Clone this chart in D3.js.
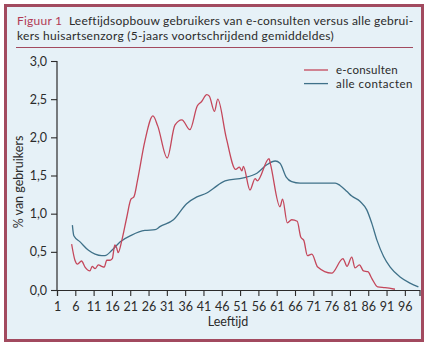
<!DOCTYPE html>
<html>
<head>
<meta charset="utf-8">
<script src="https://cdn.jsdelivr.net/npm/d3@7"></script>
<style>
  html, body { margin: 0; padding: 0; background: #fff; }
  svg text { font-family: Lato, "Open Sans", sans-serif; }
</style>
</head>
<body>
<svg id="chart" width="429" height="346"></svg>
<script>
// Age in years and share of users (%) per series, 5-year moving averages
const eConsultAge = [5, 5.9, 6.6, 7.7, 8.65, 10, 10.6, 11.4, 12.3, 13.2, 13.9, 14.6, 15.5, 16.1, 16.8, 17.3, 17.7, 18.7, 20, 21.2, 22, 23, 25, 27.2, 28.5, 31.1, 33.2, 35.1, 37.3, 39.3, 40.5, 41.9, 42.6, 44, 44.9, 47.2, 49.8, 50.8, 51.5, 51.9, 53.7, 55.1, 55.7, 58.9, 59.3, 61.9, 62.6, 63.9, 65.1, 66.6, 67.6, 68.4, 69.4, 70.6, 72.2, 76, 79.1, 79.4, 80.2, 81.5, 82.4, 83.6, 84.7, 85.9, 87, 88.6, 90.6, 93.3];
const eConsultPct = [0.60, 0.39, 0.34, 0.38, 0.30, 0.25, 0.31, 0.28, 0.33, 0.31, 0.30, 0.39, 0.39, 0.41, 0.59, 0.55, 0.49, 0.65, 0.94, 1.19, 1.22, 1.44, 1.95, 2.28, 2.15, 1.73, 2.16, 2.23, 2.10, 2.41, 2.47, 2.56, 2.54, 2.34, 2.50, 2.00, 1.58, 1.61, 1.56, 1.62, 1.31, 1.46, 1.43, 1.72, 1.65, 1.09, 1.19, 0.88, 0.92, 0.90, 0.69, 0.65, 0.45, 0.47, 0.30, 0.22, 0.41, 0.39, 0.31, 0.43, 0.29, 0.33, 0.25, 0.24, 0.15, 0.04, 0.03, 0.01];

const allContactAge = [5.2, 5.6, 7.3, 9.6, 11.4, 13.2, 14.1, 16, 18.2, 21.4, 25, 27.8, 29.1, 32.8, 36.4, 39.2, 41.9, 43.7, 46.9, 51.9, 55.6, 58.3, 60.6, 61.9, 63.6, 65.1, 67.4, 72.9, 77, 78.3, 80.2, 81.5, 83.8, 85.6, 87, 88.4, 90.2, 92, 94.7, 97.4, 99.7];
const allContactPct = [0.85, 0.71, 0.63, 0.52, 0.47, 0.45, 0.45, 0.52, 0.63, 0.72, 0.78, 0.79, 0.83, 0.92, 1.13, 1.22, 1.27, 1.33, 1.43, 1.47, 1.53, 1.64, 1.69, 1.66, 1.48, 1.42, 1.40, 1.40, 1.40, 1.37, 1.29, 1.23, 1.16, 1.05, 0.87, 0.65, 0.44, 0.30, 0.17, 0.09, 0.04];

const xTicks = d3.range(1, 97, 5);            // 1, 6, 11, ... 96
const yTicks = [0, 0.5, 1, 1.5, 2, 2.5, 3];
const seriesNames = ["e-consulten", "alle contacten"];
const titleLead = "Figuur 1";
const titleLine1 = "Leeftijdsopbouw gebruikers van e-consulten versus alle gebrui-";
const titleLine2 = "kers huisartsenzorg (5-jaars voortschrijdend gemiddeldes)";

const colRed = "#c4475b", colBlue = "#3f7189", colFrame = "#a24a5f", colBg = "#e6f1f7", colInk = "#2b2b2b";
const font = 'Lato, "Open Sans", sans-serif';

const svg = d3.select("#chart");

// framed panel
svg.append("rect").attr("x", 5.5).attr("y", 5.5).attr("width", 417).attr("height", 335)
  .attr("fill", colBg).attr("stroke", colFrame).attr("stroke-width", 3);

// spread a text's letters so it spans the given width
function fitWidth(sel, width) {
  const w = sel.node().getComputedTextLength();
  const n = sel.text().length;
  sel.attr("letter-spacing", ((width - w) / n).toFixed(3));
}

// title
const t1 = svg.append("text").attr("x", 17).attr("y", 25).attr("font-size", 12).attr("fill", colInk);
t1.append("tspan").attr("fill", "#b23a55").text(titleLead);
t1.append("tspan").text("\u00a0\u00a0" + titleLine1);
const t2 = svg.append("text").attr("x", 17).attr("y", 39.5).attr("font-size", 12).attr("fill", colInk).text(titleLine2);
fitWidth(t1, 396);
fitWidth(t2, 317);

svg.append("line").attr("x1", 16).attr("x2", 413).attr("y1", 47.5).attr("y2", 47.5)
  .attr("stroke", colFrame).attr("stroke-width", 1.2);

// scales
const x = d3.scaleLinear().domain([1, 100]).range([57, 419.5]);
const y = d3.scaleLinear().domain([0, 3]).range([290, 61]);

// axes
const xAxis = svg.append("g").attr("transform", "translate(0,290)")
  .call(d3.axisBottom(x).tickValues(xTicks).tickSize(6).tickPadding(6).tickFormat(d3.format("d")));
const yAxis = svg.append("g").attr("transform", "translate(57,0)")
  .call(d3.axisLeft(y).tickValues(yTicks).tickSize(6).tickPadding(4).tickFormat(d => d3.format(".1f")(d).replace(".", ",")));
[xAxis, yAxis].forEach(g => {
  g.select(".domain").attr("stroke", colInk).attr("stroke-width", 1.2);
  g.selectAll(".tick line").attr("stroke", colInk).attr("stroke-width", 1.1);
  g.selectAll("text").attr("fill", colInk).attr("font-size", 12.5).style("font-family", font);
});
yAxis.select(".domain").attr("d", "M0," + y(3) + "V" + y(0));

// axis titles
svg.append("text").attr("x", 228).attr("y", 326).attr("text-anchor", "middle")
  .attr("font-size", 12.5).attr("fill", colInk).text("Leeftijd");
svg.append("text").attr("transform", "translate(23,182) rotate(-90)").attr("text-anchor", "middle")
  .attr("font-size", 12.5).attr("fill", colInk).text("% van gebruikers");

// series
const line = d3.line().x(d => x(d[0])).y(d => y(d[1])).curve(d3.curveMonotoneX);
svg.append("path").datum(allContactAge.map((a, i) => [a, allContactPct[i]]))
  .attr("d", line).attr("fill", "none").attr("stroke", colBlue).attr("stroke-width", 1.3);
svg.append("path").datum(eConsultAge.map((a, i) => [a, eConsultPct[i]]))
  .attr("d", line).attr("fill", "none").attr("stroke", colRed).attr("stroke-width", 1.3);

// legend
const legend = svg.append("g");
const legendWidths = [62, 77];
[colRed, colBlue].forEach((c, i) => {
  const ly = 70 + i * 13.6;
  legend.append("line").attr("x1", 304).attr("x2", 328).attr("y1", ly).attr("y2", ly)
    .attr("stroke", c).attr("stroke-width", 1.3);
  const lt = legend.append("text").attr("x", 336).attr("y", ly + 4.2).attr("font-size", 11.5)
    .attr("fill", colInk).text(seriesNames[i]);
  fitWidth(lt, legendWidths[i]);
});
</script>
</body>
</html>
